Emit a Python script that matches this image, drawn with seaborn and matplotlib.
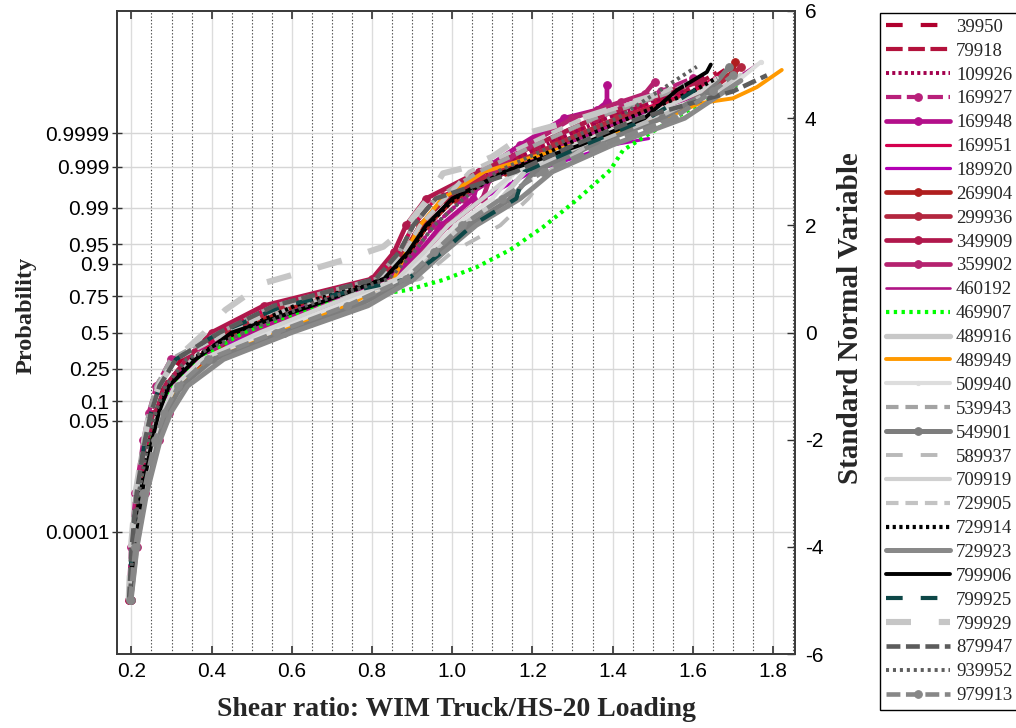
import matplotlib
matplotlib.use("Agg")
import matplotlib.pyplot as plt
import seaborn as sns
from statistics import NormalDist
from matplotlib.ticker import MultipleLocator, FixedLocator

# ---------------- data ----------------
Z_GRID = [-5.0, -4.0, -3.0, -2.0, -1.5, -1.0, -0.5, 0.0, 0.5, 1.0, 1.5, 2.0, 2.5, 3.0, 3.5, 4.0]

X_39950 = [.194, .202, .216, .238, .254, .278, .324, .44, .582, .821, .88, .92, .982, 1.112, 1.256, 1.412, 1.60, 1.68]
Z_39950 = Z_GRID + [4.5, 4.9]
X_79918 = [.195, .204, .218, .243, .260, .285, .338, .42, .556, .81, .868, .903, .959, 1.089, 1.232, 1.384, 1.58, 1.66]
Z_79918 = Z_GRID + [4.5, 4.85]
X_109926 = [.194, .201, .213, .234, .249, .270, .311, .46, .608, .832, .893, .938, 1.006, 1.089, 1.232, 1.384, 1.57, 1.63]
Z_109926 = Z_GRID + [4.5, 4.8]
X_169927 = [.193, .199, .210, .230, .243, .262, .298, .48, .634, .842, .905, .955, 1.029, 1.066, 1.208, 1.356, 1.52, 1.60]
Z_169927 = Z_GRID + [4.5, 4.75]
X_169948 = [.197, .208, .227, .255, .276, .309, .377, .50, .66, .853, .918, .973, 1.053, 1.07, 1.17, 1.28, 1.36, 1.386, 1.386]
Z_169948 = Z_GRID + [4.15, 4.3, 4.62]
X_169951 = [.196, .207, .224, .251, .271, .301, .364, .42, .556, .81, .868, .903, .959, 1.112, 1.256, 1.412, 1.60, 1.70]
Z_169951 = Z_GRID + [4.5, 4.95]
X_189920 = [.195, .205, .221, .247, .265, .293, .351, .52, .686, .863, .93, .99, 1.076, 1.20, 1.40, 1.49]
Z_189920 = Z_GRID[:15] + [3.62]
X_269904 = [.197, .210, .230, .259, .282, .317, .390, .46, .608, .832, .893, .938, 1.006, 1.135, 1.28, 1.44, 1.62, 1.70, 1.705]
Z_269904 = Z_GRID + [4.5, 4.85, 5.05]
X_299936 = [.198, .211, .232, .264, .287, .324, .404, .44, .582, .821, .88, .92, .982, 1.112, 1.256, 1.412, 1.64, 1.72]
Z_299936 = Z_GRID + [4.5, 4.95]
X_349909 = [.195, .204, .218, .243, .260, .285, .338, .40, .53, .80, .855, .885, .935, 1.066, 1.208, 1.356, 1.55, 1.62]
Z_349909 = Z_GRID + [4.5, 4.7]
X_359902 = [.198, .213, .235, .268, .293, .332, .417, .52, .686, .863, .93, .99, 1.076, 1.10, 1.19, 1.30, 1.42, 1.48, 1.505]
Z_359902 = Z_GRID + [4.3, 4.45, 4.68]
X_460192 = [.196, .207, .224, .251, .271, .301, .364, .48, .634, .842, .905, .955, 1.029, 1.135, 1.28, 1.44, 1.66, 1.76]
Z_460192 = Z_GRID + [4.5, 5.0]
X_469907 = [.196, .207, .224, .251, .271, .301, .364, .48, .66, .80, .887, .977, 1.061, 1.144, 1.227, 1.31, 1.394, 1.426, 1.50, 1.60, 1.71]
Z_469907 = [-5.0, -4.0, -3.0, -2.0, -1.5, -1.0, -0.5, 0.0, 0.5, 0.70, 0.79, 0.98, 1.22, 1.54, 1.97, 2.47, 3.03, 3.4, 3.75, 4.2, 4.62]
X_489916 = [.198, .213, .235, .268, .293, .332, .417, .56, .738, .884, .955, 1.025, 1.123, 1.181, 1.328, 1.496, 1.66, 1.72]
Z_489916 = Z_GRID + [4.5, 4.8]
X_489949 = [.197, .210, .230, .259, .282, .317, .40, .55, .74, .855, .885, .92, .975, 1.08, 1.30, 1.53, 1.618, 1.70, 1.76, 1.822]
Z_489949 = Z_GRID + [4.28, 4.37, 4.58, 4.9]
X_509940 = [.197, .208, .227, .255, .276, .309, .377, .54, .712, .874, .943, 1.008, 1.10, 1.158, 1.304, 1.468, 1.68, 1.77]
Z_509940 = Z_GRID + [4.5, 5.05]
X_539943 = [.193, .199, .210, .230, .243, .262, .298, .42, .556, .81, .868, .903, .959, 1.066, 1.208, 1.356, 1.55, 1.60]
Z_539943 = Z_GRID + [4.5, 4.7]
X_549901 = [.198, .211, .232, .264, .287, .324, .404, .58, .764, .895, .968, 1.043, 1.147, 1.204, 1.352, 1.524, 1.64, 1.69]
Z_549901 = Z_GRID + [4.5, 4.95]
X_589937 = [.195, .205, .221, .247, .265, .293, .351, .46, .608, .92, 1.0, 1.12, 1.19, 1.24, 1.34, 1.51, 1.62]
Z_589937 = Z_GRID + [4.4]
X_709919 = [.197, .208, .227, .255, .276, .309, .377, .52, .686, .863, .93, .99, 1.076, 1.158, 1.304, 1.468, 1.62, 1.66]
Z_709919 = Z_GRID + [4.5, 4.75]
X_729905 = [.194, .201, .213, .234, .249, .270, .311, .44, .582, .821, .88, .92, .982, 1.043, 1.184, 1.328, 1.50, 1.56]
Z_729905 = Z_GRID + [4.4, 4.6]
X_729914 = [.195, .205, .221, .247, .265, .293, .351, .46, .608, .832, .893, .938, 1.006, 1.135, 1.28, 1.44, 1.60, 1.66]
Z_729914 = Z_GRID + [4.5, 4.75]
X_729923 = [.199, .214, .238, .272, .298, .34, .43, .60, .79, .905, .98, 1.06, 1.17, 1.25, 1.40, 1.58, 1.68, 1.72]
Z_729923 = Z_GRID + [4.5, 4.7]
X_799906 = [.196, .206, .226, .252, .268, .293, .36, .45, .65, .83, .89, .935, 1.00, 1.13, 1.32, 1.48, 1.56, 1.635, 1.645]
Z_799906 = Z_GRID + [4.52, 4.86, 5.0]
X_799925 = [.194, .201, .213, .234, .249, .270, .311, .42, .58, .89, .975, 1.05, 1.16, 1.18, 1.33, 1.49, 1.60, 1.64]
Z_799925 = Z_GRID + [4.5, 4.7]
X_799929 = [.193, .199, .21, .232, .245, .268, .31, .383, .434, .529, .646, .728, .828, .878, .937, .977, 1.04, 1.10, 1.186, 1.30, 1.45, 1.58]
Z_799929 = [-5.0, -4.0, -3.0, -2.0, -1.5, -1.0, -0.5, 0.0, 0.42, 0.92, 1.17, 1.35, 1.6, 1.91, 2.47, 2.97, 3.09, 3.28, 3.72, 3.95, 4.3, 4.6]
X_879947 = [.194, .201, .213, .234, .249, .270, .311, .42, .556, .81, .868, .903, .959, 1.158, 1.304, 1.468, 1.70, 1.785]
Z_879947 = Z_GRID + [4.5, 4.8]
X_939952 = [.195, .204, .218, .243, .260, .285, .338, .48, .634, .842, .905, .955, 1.029, 1.112, 1.256, 1.412, 1.57, 1.61]
Z_939952 = Z_GRID + [4.77, 4.96]
X_979913 = [.197, .210, .230, .259, .282, .317, .390, .56, .738, .884, .955, 1.025, 1.123, 1.227, 1.376, 1.552, 1.65, 1.70]
Z_979913 = Z_GRID + [4.5, 4.8]

SERIES_NAMES = ["39950", "79918", "109926", "169927", "169948", "169951", "189920",
                "269904", "299936", "349909", "359902", "460192", "469907", "489916",
                "489949", "509940", "539943", "549901", "589937", "709919", "729905",
                "729914", "729923", "799906", "799925", "799929", "879947", "939952",
                "979913"]
SERIES_X = [X_39950, X_79918, X_109926, X_169927, X_169948, X_169951, X_189920,
            X_269904, X_299936, X_349909, X_359902, X_460192, X_469907, X_489916,
            X_489949, X_509940, X_539943, X_549901, X_589937, X_709919, X_729905,
            X_729914, X_729923, X_799906, X_799925, X_799929, X_879947, X_939952,
            X_979913]
SERIES_Z = [Z_39950, Z_79918, Z_109926, Z_169927, Z_169948, Z_169951, Z_189920,
            Z_269904, Z_299936, Z_349909, Z_359902, Z_460192, Z_469907, Z_489916,
            Z_489949, Z_509940, Z_539943, Z_549901, Z_589937, Z_709919, Z_729905,
            Z_729914, Z_729923, Z_799906, Z_799925, Z_799929, Z_879947, Z_939952,
            Z_979913]

PROB_TICKS = [0.0001, 0.05, 0.1, 0.25, 0.5, 0.75, 0.9, 0.95, 0.99, 0.999, 0.9999]
PROB_LABELS = ["0.0001", "0.05", "0.1", "0.25", "0.5", "0.75", "0.9", "0.95", "0.99", "0.999", "0.9999"]
SNV_TICKS = [-6, -4, -2, 0, 2, 4, 6]

# ---------------- styles ----------------
COLORS = ["#b0002e", "#b3123c", "#a3004d", "#b8207a", "#b30f8a", "#d4004f", "#b400b4",
          "#b01e1e", "#b3263f", "#b0184c", "#b5226f", "#b01585", "#00ff00", "#c8c8c8",
          "#ff9900", "#dddddd", "#a3a3a3", "#7d7d7d", "#b9b9b9", "#d0d0d0", "#c3c3c3",
          "#000000", "#898989", "#000000", "#0d4747", "#c6c6c6", "#5c5c5c", "#5e5e5e",
          "#878787"]
STYLES = [(0, (12, 13)), (0, (12, 4)), (0, (2.2, 2.3)), (0, (11, 4)), "-", "-", "-",
          "-", "-", "-", "-", "-", (0, (2.4, 3.2)), "-",
          "-", "-", (0, (9, 5)), "-", (0, (12, 13)), "-", (0, (9, 5)),
          (0, (2.3, 2.5)), "-", "-", (0, (12, 13)), (0, (18, 20)), (0, (10, 4)), (0, (2.2, 2.8)),
          (0, (10, 4))]
WIDTHS = [3.0, 3.0, 2.8, 3.0, 3.4, 2.3, 2.3,
          3.4, 3.4, 3.4, 3.4, 1.9, 3.0, 3.8,
          2.8, 3.0, 3.0, 3.6, 2.8, 3.0, 3.0,
          3.0, 3.6, 2.8, 3.0, 4.4, 3.3, 2.8,
          3.3]
MARKERS = [None, None, None, "o", "o", None, None,
           "o", "o", "o", "o", None, None, None,
           None, "o", None, "o", None, None, None,
           None, None, None, None, None, None, None,
           "o"]
MSIZES = [0, 0, 0, 5.5, 5.5, 0, 0, 5.5, 5.5, 5.5, 5.5, 0, 0, 0, 0, 3, 0, 5.5, 0, 0, 0, 0, 0, 0, 0, 0, 0, 0, 5.5]

# ---------------- figure ----------------
sns.set_style("white")
plt.rcParams["lines.scale_dashes"] = False
plt.rcParams["axes.unicode_minus"] = False
plt.rcParams["font.family"] = ["Liberation Sans", "DejaVu Sans"]
SERIF = ["Liberation Serif", "DejaVu Serif"]

fig = plt.figure(figsize=(10.16, 7.28), dpi=100)
ax = fig.add_axes([117 / 1016, 1 - 654 / 728, (795 - 117) / 1016, (654 - 11) / 728])
ax.set_axisbelow(True)

for name, xs, zs, col, ls, lw, mk, ms in zip(SERIES_NAMES, SERIES_X, SERIES_Z, COLORS,
                                             STYLES, WIDTHS, MARKERS, MSIZES):
    sns.lineplot(x=xs, y=zs, ax=ax, color=col, linestyle=ls, linewidth=lw,
                 marker=mk, markersize=ms, markeredgecolor=col, markerfacecolor=col,
                 sort=False, estimator=None, legend=False, label=name)

ax.set_xlim(0.164, 1.855)
ax.set_ylim(-6, 6)

nd = NormalDist()
prob_pos = [nd.inv_cdf(p) for p in PROB_TICKS]

ax.xaxis.set_major_locator(MultipleLocator(0.2))
ax.xaxis.set_minor_locator(MultipleLocator(0.05))
ax.yaxis.set_major_locator(FixedLocator(prob_pos))
ax.set_yticklabels(PROB_LABELS)
ax.grid(which="major", axis="x", color="#dcdcdc", linewidth=1.0, linestyle="-")
ax.grid(which="minor", axis="x", color="#505050", linewidth=0.8, linestyle=(0, (1, 1.4)))
ax.grid(which="major", axis="y", color="#d6d6d6", linewidth=1.0, linestyle="-")

ax.tick_params(axis="x", which="major", direction="in", length=6, width=1.2,
               top=True, bottom=True, labelsize=15, pad=6, colors="#333333",
               labelcolor="black")
ax.tick_params(axis="x", which="minor", length=0, top=False, bottom=False)
ax.tick_params(axis="y", which="major", direction="inout", length=7, width=1.0,
               left=True, right=False, labelsize=15, pad=2, colors="#333333",
               labelcolor="black")
for s in ax.spines.values():
    s.set_color("#3c3c3c")
    s.set_linewidth(1.3)

ax2 = ax.twinx()
ax2.set_ylim(-6, 6)
ax2.yaxis.set_major_locator(FixedLocator(SNV_TICKS))
ax2.tick_params(axis="y", direction="in", length=6, width=1.0, right=True, left=False,
                labelsize=15, pad=7, colors="#333333", labelcolor="black")
ax2.grid(False)
for s in ax2.spines.values():
    s.set_color("#3c3c3c")
    s.set_linewidth(1.3)

ax.set_xlabel("")
ax.set_ylabel("")
fig.text(456 / 1016, 1 - 710 / 728, "Shear ratio: WIM Truck/HS-20 Loading",
         ha="center", va="center", fontsize=20, fontweight="bold", family=SERIF)
fig.text(26 / 1016, 1 - 315 / 728, "Probability", rotation=90,
         ha="center", va="center", fontsize=17.5, fontweight="bold", family=SERIF)
fig.text(850 / 1016, 1 - 318 / 728, "Standard Normal Variable", rotation=90,
         ha="center", va="center", fontsize=21, fontweight="bold", family=SERIF)

handles, labels = ax.get_legend_handles_labels()
leg = fig.legend(handles, labels, loc="upper left", bbox_to_anchor=(880 / 1016, 1 - 13 / 728),
                 bbox_transform=fig.transFigure, borderaxespad=0, frameon=True,
                 fancybox=False, edgecolor="black", framealpha=1,
                 prop={"family": SERIF, "size": 13.5}, handlelength=3.45,
                 handletextpad=0.3, labelspacing=0.36, borderpad=0.3, numpoints=1)
leg.get_frame().set_linewidth(1.0)

fig.savefig("out.png", dpi=100, facecolor="white")
